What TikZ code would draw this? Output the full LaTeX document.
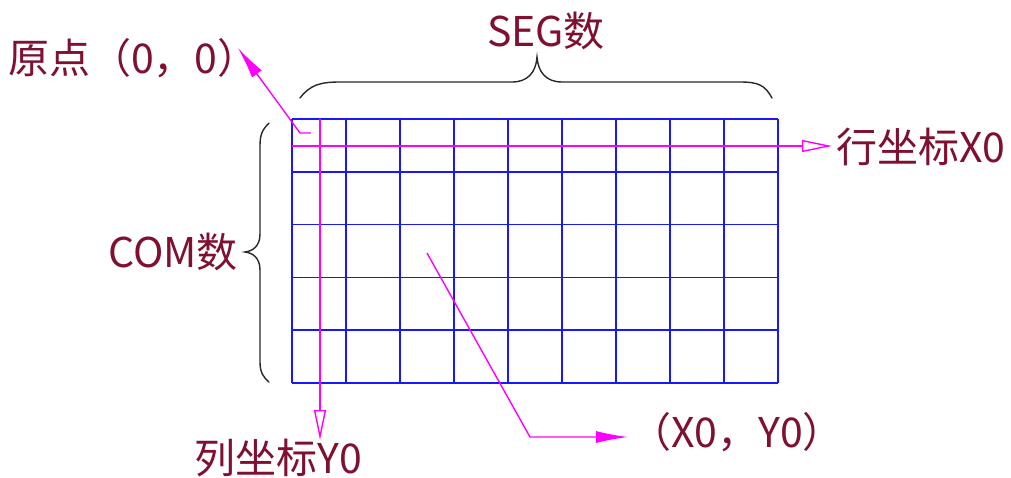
\documentclass[tikz,border=0pt]{standalone}
\usepackage{fontspec}
\setmainfont{Noto Sans CJK SC}
\usetikzlibrary{arrows.meta}
\definecolor{txtred}{RGB}{128,16,48}
\definecolor{gridblue}{RGB}{24,24,255}
\definecolor{mag}{RGB}{255,0,255}
\definecolor{bracegray}{RGB}{40,40,40}
\tikzset{
  gridline/.style={draw=gridblue,line width=1.6pt},
  magline/.style={draw=mag,line width=1.4pt},
  bracepath/.style={draw=bracegray,line width=1.4pt,line cap=round},
  lbl/.style={text=txtred,font=\fontsize{41}{46}\selectfont,inner sep=0pt},
  openhead/.style={-{Triangle[open,length=30pt,width=12pt,fill=white]}},
  fullhead/.style={-{Latex[length=32pt,width=12pt]}}
}
\begin{document}
\begin{tikzpicture}[x=1pt,y=-1pt]
\useasboundingbox[fill=white] (0,0) rectangle (1011,477);
% grid
\foreach \i in {0,...,9} \draw[gridline] (292+54*\i,119) -- (292+54*\i,383);
\foreach \j in {0,...,5} \draw[gridline] (292,119+52.8*\j) -- (778,119+52.8*\j);
% named points
\coordinate (org) at (300,133);
\coordinate (orgtick) at (311,133);
\coordinate (origtip) at (238,48);
\coordinate (rowstart) at (292,146);
\coordinate (rowtip) at (832,146);
\coordinate (colstart) at (320,119);
\coordinate (coltip) at (320,440);
\coordinate (cell) at (427,253);
\coordinate (bend) at (530,437);
\coordinate (xytip) at (628,437);
% labels
\node[lbl,anchor=west] (origin) at (8,58) {原点（0，0）};
\node[lbl] (seg) at (546,31) {SEG数};
\node[lbl,anchor=east] (com) at (238,252) {COM数};
\node[lbl,anchor=west] (rowx) at (836,147) {行坐标X0};
\node[lbl] (coly) at (278,458) {列坐标Y0};
\node[lbl,anchor=west] (xy) at (630,432) {（X0，Y0）};
% braces
\draw[bracepath] (300,98) .. controls (310,85) and (320,82) .. (340,82)
  -- (512,82) .. controls (528,82) and (536,72) .. (537,57)
  .. controls (538,72) and (546,82) .. (562,82)
  -- (740,82) .. controls (758,82) and (765,85) .. (772,98);
\draw[bracepath] (269,123) .. controls (262,130) and (260,135) .. (260,146)
  -- (260,234) .. controls (260,246) and (253,251) .. (245,252)
  .. controls (253,253) and (260,258) .. (260,270)
  -- (260,362) .. controls (260,372) and (263,377) .. (269,382);
% magenta connectors
\draw[magline,openhead] (rowstart) -- (rowtip);
\draw[magline,openhead] (colstart) -- (coltip);
\draw[magline,fullhead] (orgtick) -- (org) -- (origtip);
\draw[magline,fullhead] (cell) -- (bend) -- (xytip);
\end{tikzpicture}
\end{document}
